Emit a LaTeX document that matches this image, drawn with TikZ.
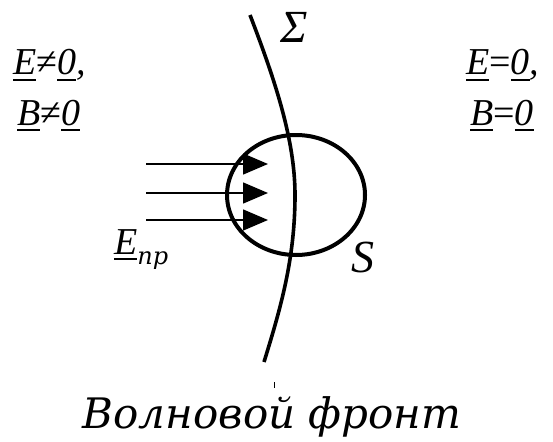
\documentclass[tikz,border=0pt]{standalone}
\usepackage{fontspec}
\setmainfont{Liberation Serif}
\newfontfamily\cyrfont{DejaVu Serif}
\usetikzlibrary{arrows.meta}
\newcommand\myul[1]{\setbox0\hbox{#1}\rlap{\rule[-6pt]{\wd0}{1.8pt}}\box0}
\begin{document}
\begin{tikzpicture}[x=1pt,y=-1pt,
  front/.style={line width=3.6pt},
  surf/.style={line width=4pt},
  ray/.style={line width=1.4pt,-{Triangle[length=25pt,width=21pt]}},
  lbl/.style={font=\itshape\fontsize{38}{40}\selectfont,inner sep=0pt,anchor=base west},
  big/.style={font=\itshape\fontsize{46}{48}\selectfont,inner sep=0pt,anchor=base west}]
\useasboundingbox (0,0) rectangle (553,441);
% wave front
\coordinate (ftop) at (250,15);
\coordinate (fmid) at (295,195);
\coordinate (fbot) at (264,362);
\draw[front] (ftop) .. controls (275,80) and (295,140) .. (fmid)
             .. controls (295,260) and (280,310) .. (fbot);
\coordinate (tickA) at (274,382);
\coordinate (tickB) at (274,388);
\draw[line width=1pt] (tickA) -- (tickB);
% surface S
\coordinate (sc) at (296,195);
\draw[surf] (sc) ellipse [x radius=69, y radius=60];
% rays
\foreach \i/\y in {1/164,2/193,3/220}{
  \coordinate (r\i a) at (146,\y);
  \coordinate (r\i b) at (268,\y);
  \draw[ray] (r\i a) -- (r\i b);
}
% labels
\node[lbl] (l1) at (13,75) {\myul{E}{\upshape ≠}\myul{0},};
\node[lbl] (l2) at (17,125) {\myul{B}{\upshape ≠}\myul{0}};
\node[lbl] (r1) at (466,75) {\myul{E}{\upshape =}\myul{0},};
\node[lbl] (r2) at (470,125) {\myul{B}{\upshape =}\myul{0}};
\node[lbl] (ep) at (114,254) {\myul{E}\raisebox{-10pt}{\cyrfont\itshape\fontsize{24}{24}\selectfont пр}};
\node[big] (sig) at (280,43) {Σ};
\node[big] (S) at (351,272) {S};
\node[font=\cyrfont\itshape\fontsize{42}{44}\selectfont,inner sep=0pt,anchor=base] (title) at (272,428) {Волновой фронт};
\end{tikzpicture}
\end{document}
